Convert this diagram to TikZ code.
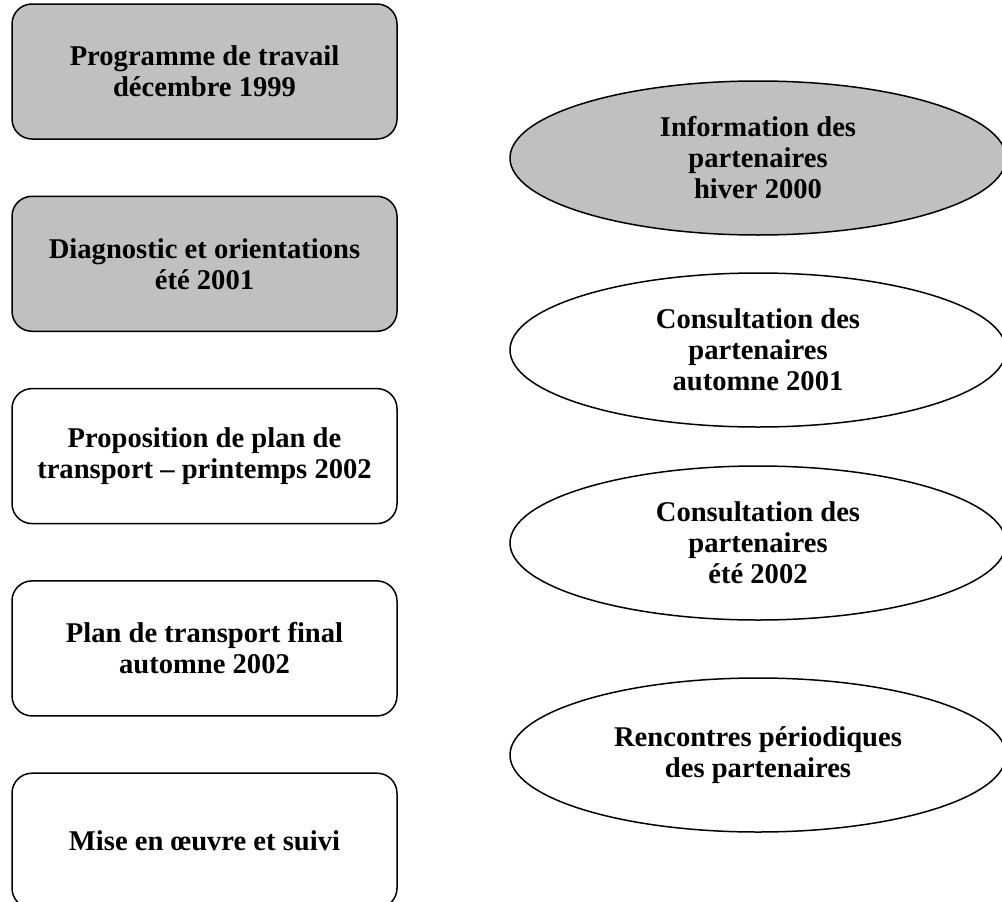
\documentclass[tikz,border=0pt]{standalone}
\usepackage{fontspec}
\setmainfont{Liberation Serif}
\usetikzlibrary{shapes.geometric}
\definecolor{panelgrey}{RGB}{192,192,192}
\begin{document}
\begin{tikzpicture}[x=1pt,y=-1pt,line width=1.5pt,
  boxtext/.style={font=\bfseries\fontsize{28.6}{31}\selectfont,align=center,inner sep=0pt},
  phase/.style={draw,rounded corners=20pt,minimum width=385pt,minimum height=135pt,boxtext},
  meeting/.style={draw,ellipse,minimum width=496pt,minimum height=154pt,boxtext}]
\useasboundingbox (0,0) rectangle (1002,902);
\clip (0,0) rectangle (1002,902);
% etapes du plan
\foreach \txt/\shade [count=\i] in {%
  {Programme de travail\\d\'ecembre 1999}/panelgrey,
  {Diagnostic et orientations\\\'et\'e 2001}/panelgrey,
  {Proposition de plan de\\transport – printemps 2002}/white,
  {Plan de transport final\\automne 2002}/white,
  {Mise en œuvre et suivi}/white}
  \node[phase,fill=\shade] (box\i) at (204.5,{71.5+192.3*(\i-1)}) {\txt};
% rencontres avec les partenaires
\node[meeting,fill=panelgrey] (info) at (758,158) {Information des\\partenaires\\hiver 2000};
\node[meeting] (consultA) at (758,350) {Consultation des\\partenaires\\automne 2001};
\node[meeting] (consultB) at (758,543) {Consultation des\\partenaires\\\'et\'e 2002};
\node[meeting] (rencontres) at (758,755) {Rencontres p\'eriodiques\\des partenaires};
\end{tikzpicture}
\end{document}
